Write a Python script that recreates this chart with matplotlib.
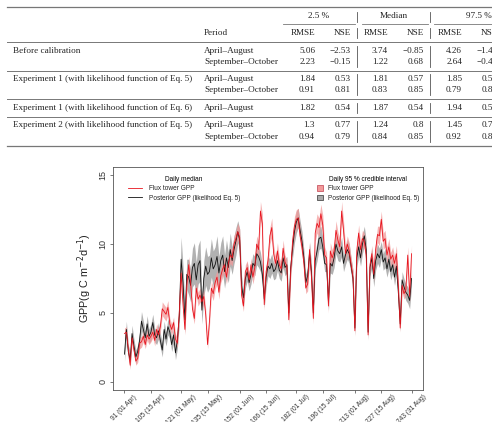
import matplotlib
matplotlib.use("Agg")
import matplotlib.pyplot as plt
import numpy as np
from matplotlib.lines import Line2D
from matplotlib.patches import Patch

# ---------------- data ----------------
days = list(range(91, 244))

flux_gpp = [
    3.5, 3.6, 2.4, 1.2, 3.2, 2.3, 1.5, 1.7, 2.8, 2.9,
    3.3, 2.7, 3.4, 3.1, 3.3, 3.6, 3.0, 3.8, 3.4, 4.0,
    5.3, 5.1, 4.9, 5.4, 4.2, 3.8, 4.3, 3.1, 2.8, 5.0,
    7.9, 5.6, 3.8, 7.0, 8.5, 7.2, 5.3, 4.6, 6.8, 6.0,
    6.3, 5.8, 6.2, 4.9, 2.7, 4.4, 6.8, 6.4, 7.2, 7.6,
    6.5, 7.7, 8.2, 8.5, 7.6, 8.6, 9.2, 9.0, 10.0, 10.4,
    10.9, 10.5, 6.3, 5.5, 8.0, 8.3, 7.4, 8.5, 7.6, 8.3,
    10.0, 9.6, 12.4, 11.5, 5.6, 8.0, 8.8, 10.6, 11.2, 9.3,
    8.6, 9.5, 8.5, 8.2, 9.7, 8.7, 8.4, 4.5, 8.0, 10.2,
    11.3, 11.8, 11.9, 10.6, 9.8, 8.6, 6.8, 7.1, 9.6, 7.6,
    4.6, 10.8, 11.5, 11.2, 12.2, 11.4, 9.2, 9.0, 5.5, 9.5,
    9.0, 9.5, 11.0, 10.3, 9.8, 12.4, 11.0, 9.3, 10.0, 9.5,
    8.5, 7.6, 3.7, 9.5, 10.8, 9.6, 10.4, 10.2, 9.2, 3.4,
    8.5, 9.3, 7.8, 9.6, 10.7, 10.6, 11.8, 10.2, 10.4, 9.2,
    9.8, 8.9, 9.2, 8.6, 9.3, 7.0, 3.9, 7.0, 6.4, 6.7,
    9.2, 6.2, 9.3,
]

flux_halfwidth = [
    0.4, 0.4, 0.3, 0.3, 0.4, 0.3, 0.3, 0.3, 0.4, 0.4,
    0.4, 0.3, 0.4, 0.4, 0.4, 0.4, 0.4, 0.4, 0.4, 0.4,
    0.5, 0.5, 0.5, 0.5, 0.4, 0.4, 0.4, 0.4, 0.3, 0.5,
    0.6, 0.5, 0.4, 0.5, 0.6, 0.5, 0.5, 0.4, 0.5, 0.5,
    0.5, 0.5, 0.5, 0.4, 0.3, 0.4, 0.5, 0.5, 0.5, 0.5,
    0.5, 0.5, 0.6, 0.6, 0.5, 0.6, 0.6, 0.6, 0.6, 0.6,
    0.6, 0.6, 0.5, 0.4, 0.5, 0.5, 0.5, 0.5, 0.5, 0.5,
    0.6, 0.6, 0.7, 0.7, 0.4, 0.5, 0.6, 0.6, 0.7, 0.6,
    0.5, 0.6, 0.5, 0.5, 0.6, 0.5, 0.5, 0.4, 0.5, 0.6,
    0.7, 0.7, 0.7, 0.6, 0.6, 0.5, 0.4, 0.5, 0.6, 0.5,
    0.4, 0.6, 0.7, 0.7, 0.7, 0.7, 0.6, 0.4, 0.5, 0.6,
    0.6, 0.6, 0.7, 0.6, 0.6, 0.7, 0.7, 0.6, 0.6, 0.6,
    0.5, 0.5, 0.4, 0.6, 0.6, 0.6, 0.6, 0.6, 0.6, 0.4,
    0.5, 0.6, 0.5, 0.6, 0.6, 0.7, 0.6, 0.6, 0.6, 0.6,
    0.6, 0.5, 0.6, 0.5, 0.6, 0.5, 0.3, 0.5, 0.4, 0.4,
    0.6, 0.4, 0.6,
]

posterior_gpp = [
    2.0, 3.8, 2.2, 1.6, 3.5, 2.6, 1.8, 2.2, 3.0, 4.4,
    3.8, 3.2, 4.2, 3.3, 3.6, 4.3, 3.4, 3.2, 3.7, 3.0,
    2.3, 3.8, 3.1, 4.0, 3.6, 2.7, 3.4, 2.1, 3.0, 4.8,
    8.9, 7.2, 4.5, 7.8, 7.6, 7.0, 8.3, 8.6, 7.4, 8.5,
    8.8, 5.2, 7.5, 8.4, 7.8, 8.0, 9.0, 8.2, 8.5, 9.1,
    7.9, 8.8, 9.2, 8.0, 9.0, 8.3, 9.6, 8.8, 9.6, 10.2,
    10.9, 10.3, 7.0, 6.1, 7.5, 8.0, 7.2, 7.8, 8.6, 8.4,
    9.3, 9.1, 8.7, 7.8, 6.0, 7.6, 8.4, 8.2, 8.6, 8.0,
    8.2, 8.8, 8.1, 7.9, 9.0, 8.3, 8.5, 5.0, 8.3, 9.7,
    10.9, 11.6, 11.9, 11.0, 10.2, 9.0, 7.2, 7.7, 9.4, 8.0,
    5.0, 8.8, 9.5, 10.4, 10.5, 9.8, 8.6, 8.5, 5.8, 8.6,
    8.4, 9.0, 10.0, 9.5, 9.3, 9.8, 8.6, 9.2, 9.6, 9.3,
    8.4, 7.5, 3.9, 9.0, 9.8, 9.0, 10.0, 10.6, 9.6, 3.6,
    8.3, 9.0, 7.5, 8.8, 9.3, 9.0, 9.6, 8.7, 9.0, 8.2,
    8.9, 8.0, 8.5, 7.6, 8.4, 6.5, 4.2, 7.4, 6.9, 6.5,
    6.3, 5.9, 7.5,
]

posterior_halfwidth = [
    0.5, 0.6, 0.5, 0.5, 0.6, 0.5, 0.5, 0.5, 0.6, 0.7,
    0.6, 0.5, 0.6, 0.5, 0.6, 0.6, 0.5, 0.5, 0.6, 0.5,
    0.5, 0.6, 0.5, 0.6, 0.5, 0.5, 0.6, 0.5, 0.6, 0.7,
    1.6, 1.2, 0.9, 1.1, 1.3, 1.2, 1.4, 1.5, 1.3, 1.4,
    1.5, 1.0, 1.3, 1.4, 1.3, 1.2, 1.4, 1.3, 1.3, 1.5,
    1.2, 1.3, 1.4, 1.2, 1.3, 1.1, 1.2, 1.0, 1.0, 1.0,
    0.8, 0.8, 0.7, 0.6, 0.7, 0.7, 0.6, 0.7, 0.7, 0.7,
    0.8, 0.8, 0.7, 0.7, 0.6, 0.7, 0.7, 0.7, 0.7, 0.6,
    0.7, 0.7, 0.6, 0.6, 0.7, 0.6, 0.6, 0.5, 0.6, 0.7,
    0.8, 0.8, 0.7, 0.7, 0.7, 0.6, 0.6, 0.6, 0.7, 0.6,
    0.5, 0.6, 0.7, 0.8, 0.8, 0.7, 0.6, 0.5, 0.6, 0.7,
    0.6, 0.7, 0.7, 0.7, 0.6, 0.7, 0.6, 0.7, 0.7, 0.7,
    0.6, 0.6, 0.5, 0.7, 0.7, 0.6, 0.7, 0.7, 0.7, 0.5,
    0.6, 0.7, 0.6, 0.7, 0.7, 0.7, 0.6, 0.6, 0.7, 0.6,
    0.7, 0.6, 0.6, 0.6, 0.6, 0.6, 0.5, 0.6, 0.6, 0.6,
    0.6, 0.6, 0.6,
]

tick_days = [91, 105, 121, 135, 152, 166, 182, 196, 213, 227, 243]
tick_labels = ["91 (01 Apr)", "105 (15 Apr)", "121 (01 May)", "135 (15 May)",
               "152 (01 Jun)", "166 (15 Jun)", "182 (01 Jul)", "196 (15 Jul)",
               "213 (01 Aug)", "227 (15 Aug)", "243 (31 Aug)"]

# table contents
table_groups = ["Before calibration",
                "Experiment 1 (with likelihood function of Eq. 5)",
                "Experiment 1 (with likelihood function of Eq. 6)",
                "Experiment 2 (with likelihood function of Eq. 5)"]
table_periods = [["April\u2013August", "September\u2013October"],
                 ["April\u2013August", "September\u2013October"],
                 ["April\u2013August"],
                 ["April\u2013August", "September\u2013October"]]
table_values = [
    [["5.06", "\u22122.53", "3.74", "\u22120.85", "4.26", "\u22121.41"],
     ["2.23", "\u22120.15", "1.22", "0.68", "2.64", "\u22120.42"]],
    [["1.84", "0.53", "1.81", "0.57", "1.85", "0.53"],
     ["0.91", "0.81", "0.83", "0.85", "0.79", "0.83"]],
    [["1.82", "0.54", "1.87", "0.54", "1.94", "0.50"]],
    [["1.3", "0.77", "1.24", "0.8", "1.45", "0.74"],
     ["0.94", "0.79", "0.84", "0.85", "0.92", "0.82"]],
]
span_headers = ["2.5 %", "Median", "97.5 %"]

# ---------------- figure ----------------
W, H = 492, 422
fig = plt.figure(figsize=(W / 100, H / 100), dpi=100)


def P(px, py):
    return px / W, 1 - py / H


serif = "Liberation Serif"
tcol = "#222222"
tfs = 6.6


def hline(x0, x1, y, lw=0.7, c="#777777"):
    fig.add_artist(Line2D([x0 / W, x1 / W], [1 - y / H, 1 - y / H],
                          transform=fig.transFigure, color=c, lw=lw))


def vline(x, y0, y1, lw=0.6, c="#555555"):
    fig.add_artist(Line2D([x / W, x / W], [1 - y0 / H, 1 - y1 / H],
                          transform=fig.transFigure, color=c, lw=lw))


def txt(px, py, s, ha="left"):
    x, y = P(px, py)
    fig.text(x, y, s, ha=ha, va="center", family=serif, fontsize=tfs, color=tcol)


# horizontal rules
hline(7, 492, 7.3, lw=0.9)
hline(7, 492, 42.3)
hline(7, 492, 70.7)
hline(7, 492, 99.0)
hline(7, 492, 117.3)
hline(7, 492, 146.0, lw=0.9)
# spanning header rules
hline(283, 355, 23.5, lw=0.6)
hline(362, 428, 23.5, lw=0.6)
hline(434, 492, 23.5, lw=0.6)

span_centers = [319, 394, 479]
for s, cx in zip(span_headers, span_centers):
    txt(cx, 16, s, ha="center")

col_right = [315, 351, 388, 424, 462, 498]
txt(204, 33, "Period")
for i, cr in enumerate(col_right):
    txt(cr, 33, "RMSE" if i % 2 == 0 else "NSE", ha="right")

bar_x = [357, 430]
bar_spans = [(12, 22), (28, 38), (46, 67), (74, 95), (103, 113), (121, 142)]
for bx in bar_x:
    for y0, y1 in bar_spans:
        vline(bx, y0, y1)

row_y = [[51, 62], [79, 90], [108], [125, 137]]
for g, name in enumerate(table_groups):
    txt(13, row_y[g][0], name)
    for r, yy in enumerate(row_y[g]):
        txt(204, yy, table_periods[g][r])
        for c, cr in enumerate(col_right):
            txt(cr, yy, table_values[g][r][c], ha="right")

# ---------------- chart ----------------
ax = fig.add_axes([113 / W, 1 - 390 / H, (423 - 113) / W, (390 - 167) / H])

d = np.array(days)
fg = np.array(flux_gpp)
fh = np.array(flux_halfwidth)
pg = np.array(posterior_gpp)
ph = np.array(posterior_halfwidth)

gray_fill = "#a9a9a9"
pink_fill = "#f29a9a"
ax.fill_between(d, pg - ph, pg + ph, color=gray_fill, lw=0, alpha=0.9)
ax.fill_between(d, fg - fh, fg + fh, color=pink_fill, lw=0, alpha=0.75)
ax.plot(d, pg, color="#111111", lw=0.6)
ax.plot(d, fg, color="#e8141e", lw=0.6)

ax.set_xlim(84.92, 249.08)
ax.set_ylim(-0.6, 15.6)
ax.set_yticks([0, 5, 10, 15])
ax.set_yticklabels(["0", "5", "10", "15"], rotation=90, va="center",
                   family="Liberation Sans", fontsize=6.5, color="#333333")
ax.set_xticks(tick_days)
ax.set_xticklabels(tick_labels, rotation=45, ha="center", va="top",
                   family="Liberation Sans", fontsize=4.8, color="#333333")
ax.tick_params(axis="both", length=2.2, width=0.5, color="#444444")
ax.tick_params(axis="x", pad=0.3)
ax.tick_params(axis="y", pad=2.0)
for sp in ax.spines.values():
    sp.set_color("#555555")
    sp.set_linewidth(0.6)

ax.set_ylabel("GPP(g C m$^{-2}$d$^{-1}$)", family="Liberation Sans",
              fontsize=7.8, color="#222222", labelpad=3)

lfs = 4.7
h1 = [Line2D([], [], color="#e8141e", lw=0.6),
      Line2D([], [], color="#111111", lw=0.6)]
leg1 = ax.legend(h1, ["Flux tower GPP", "Posterior GPP (likelihood Eq. 5)"],
                 title="Daily median", loc="upper left",
                 bbox_to_anchor=P(128, 176), bbox_transform=fig.transFigure,
                 frameon=False, borderpad=0, borderaxespad=0,
                 handlelength=2.2, handletextpad=1.0, labelspacing=0.35,
                 prop={"family": "Liberation Sans", "size": lfs},
                 title_fontproperties={"family": "Liberation Sans", "size": lfs})
ax.add_artist(leg1)

h2 = [Patch(facecolor=pink_fill, edgecolor="#c04050", lw=0.5),
      Patch(facecolor=gray_fill, edgecolor="#333333", lw=0.5)]
leg2 = ax.legend(h2, ["Flux tower GPP", "Posterior GPP (likelihood Eq. 5)"],
                 title="Daily 95 % credible interval", loc="upper left",
                 bbox_to_anchor=P(317, 176), bbox_transform=fig.transFigure,
                 frameon=False, borderpad=0, borderaxespad=0,
                 handlelength=0.9, handleheight=0.9, handletextpad=0.8,
                 labelspacing=0.35,
                 prop={"family": "Liberation Sans", "size": lfs},
                 title_fontproperties={"family": "Liberation Sans", "size": lfs})
for t in leg1.get_texts() + leg2.get_texts():
    t.set_color("#222222")

fig.savefig("out.png", dpi=100)
